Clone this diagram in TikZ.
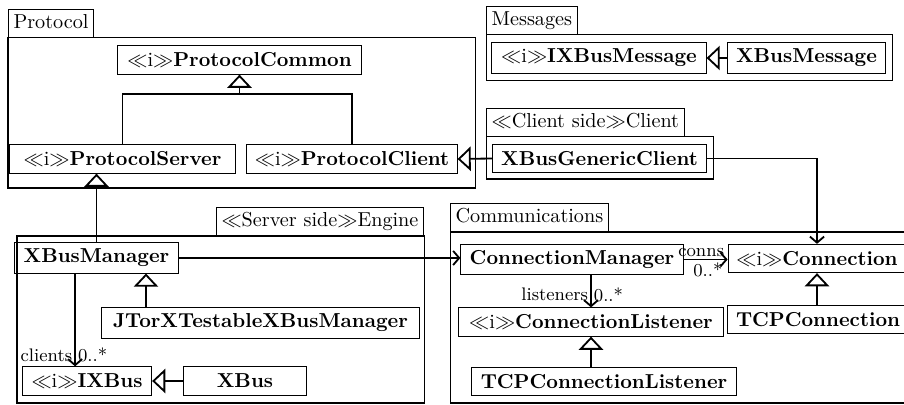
\documentclass[tikz,border=0pt]{standalone}
\usetikzlibrary{arrows.meta}
\newcommand{\ifc}{\textnormal{$\ll$i$\gg$}}
\begin{document}
\begin{tikzpicture}[x=0.495pt, y=-0.495pt, line width=0.5pt,
	umlclass/.style={draw, inner sep=3pt, minimum height=14pt, font=\bfseries},
	pkgtab/.style={draw, inner sep=2.5pt, text height=7pt, text depth=2pt},
	inherit/.style={line width=0.9pt, -{Triangle[open, width=12pt, length=6.5pt]}},
	assoc/.style={line width=0.9pt, -{Straight Barb[length=3pt, width=7pt]}},
	mult/.style={font=\small, inner sep=1pt}]
	
	\useasboundingbox (0,0) rectangle (904,405);
	
	% Packages
	\node[pkgtab, anchor=south west] (protocoltab) at (8,38) {Protocol};
	\draw (8,38) rectangle (475,188);
	\node[pkgtab, anchor=south west] (messagestab) at (486,35) {Messages};
	\draw (486,35) rectangle (892,81);
	\node[pkgtab, anchor=south west] (clienttab) at (486,137) {$\ll$Client side$\gg$Client};
	\draw (486,137) rectangle (713,179);
	\node[pkgtab, anchor=south east] (enginetab) at (424,236) {$\ll$Server side$\gg$Engine};
	\draw (17,236) rectangle (424,403);
	\node[pkgtab, anchor=south west] (commtab) at (450,232) {Communications};
	\draw (450,232) rectangle (912,403);
	
	% Classes
	\node[umlclass, minimum width=121pt] (pcommon) at (239.5,60) {\ifc ProtocolCommon};
	\node[umlclass, minimum width=112pt] (pserver) at (122.5,159) {\ifc ProtocolServer};
	\node[umlclass, minimum width=104pt] (pclient) at (352,159) {\ifc ProtocolClient};
	\node[umlclass, minimum width=106pt] (ixbusmsg) at (599,58) {\ifc IXBusMessage};
	\node[umlclass, minimum width=78pt] (xbusmsg) at (806.5,58) {XBusMessage};
	\node[umlclass, minimum width=106pt] (xbgc) at (599.5,158.5) {XBusGenericClient};
	\node[umlclass, minimum width=81pt] (xbm) at (96.5,258) {XBusManager};
	\node[umlclass, minimum width=157pt] (jtorx) at (260.5,323) {JTorXTestableXBusManager};
	\node[umlclass, minimum width=64pt] (ixbus) at (87,381) {\ifc IXBus};
	\node[umlclass, minimum width=61pt] (xbus) at (245,381) {XBus};
	\node[umlclass, minimum width=110pt] (cm) at (572,259.5) {ConnectionManager};
	\node[umlclass, minimum width=88pt] (conn) at (817,258.5) {\ifc Connection};
	\node[umlclass, minimum width=90pt] (tcpconn) at (818,319.5) {TCPConnection};
	\node[umlclass, minimum width=131pt] (cl) at (591,322) {\ifc ConnectionListener};
	\node[umlclass, minimum width=131pt] (tcpcl) at (604,381.5) {TCPConnectionListener};
	
	\coordinate (protojoin) at ([yshift=-9.5pt]pcommon.south);
	\coordinate (xbmfoot) at ([xshift=24.5pt]xbm.south);
	\coordinate (xbmleg) at ([xshift=-10.6pt]xbm.south);
	
	% Generalizations
	\draw[line width=0.9pt] (pserver.north) |- (protojoin) -| (pclient.north);
	\draw[inherit] (protojoin) -- (pcommon.south);
	\draw[inherit] (xbm.north) -- (xbm.north |- pserver.south);
	\draw[inherit] (xbusmsg.west) -- (ixbusmsg.east);
	\draw[inherit] (xbgc.west) -- (pclient.east);
	\draw[inherit] (xbmfoot |- jtorx.north) -- (xbmfoot);
	\draw[inherit] (xbus.west) -- (ixbus.east);
	\draw[inherit] (tcpconn.north -| conn.south) -- (conn.south);
	\draw[inherit] (tcpcl.north -| cl.south) -- (cl.south);
	
	% Associations
	\draw[assoc] (xbm.east) -- (xbm.east -| cm.west);
	\draw[assoc] (xbgc.east) -| (conn.north);
	\draw[assoc] (cm.east) -- node[mult, pos=0.4, above] {conns} node[mult, pos=0.55, below] {0..*} (cm.east -| conn.west);
	\draw[assoc] (xbmleg) -- node[mult, pos=0.88, left] {clients} node[mult, pos=0.88, right] {0..*} (xbmleg |- ixbus.north);
	\draw[assoc] (cl.north |- cm.south) -- node[mult, pos=0.6, left] {listeners} node[mult, pos=0.6, right] {0..*} (cl.north);
	
\end{tikzpicture}
\end{document}
